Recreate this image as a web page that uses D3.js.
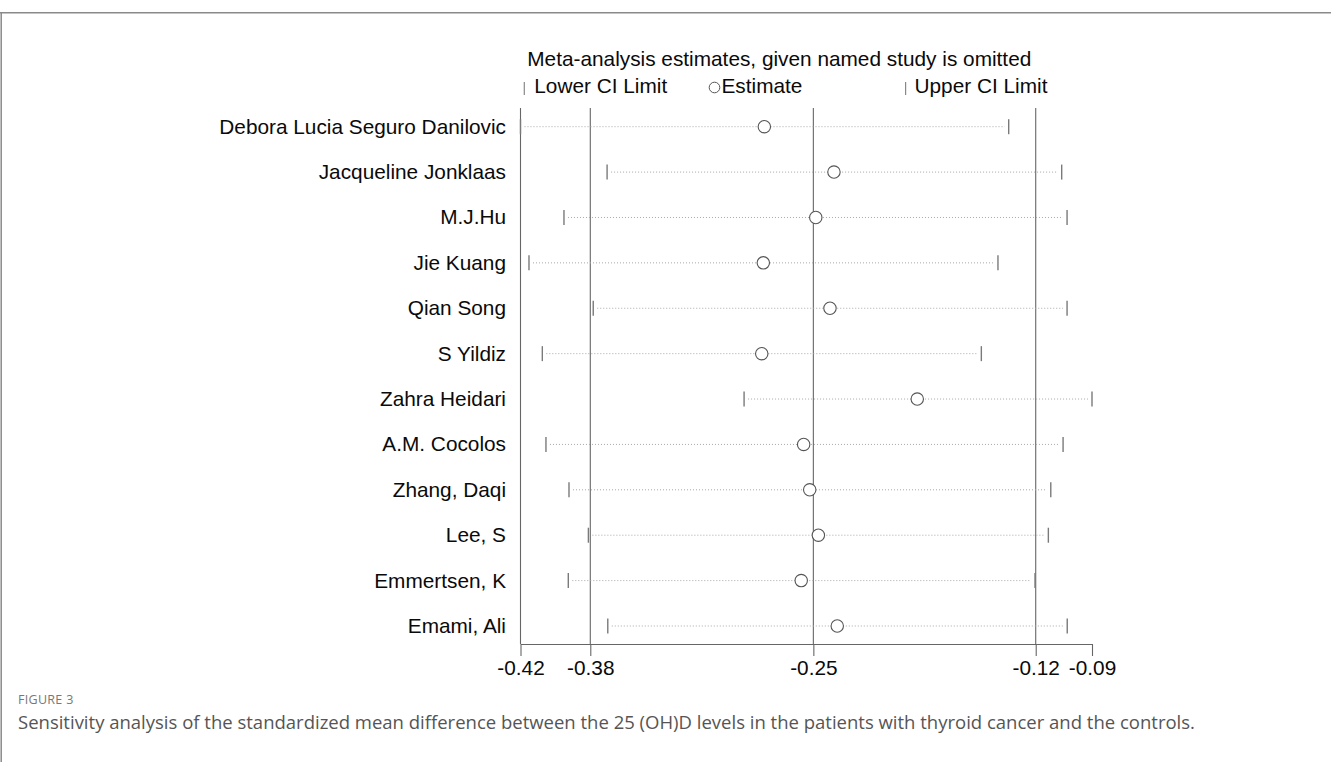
<!DOCTYPE html>
<html>
<head>
<meta charset="utf-8">
<script src="https://cdn.jsdelivr.net/npm/d3@7"></script>
<style>
  html, body { margin: 0; padding: 0; background: #fff; }
  svg { display: block; }
</style>
</head>
<body>
<svg id="chart" width="1331" height="762"></svg>
<script>
// Leave-one-out sensitivity analysis: pooled SMD with each study omitted
const studies = [
  "Debora Lucia Seguro Danilovic",
  "Jacqueline Jonklaas",
  "M.J.Hu",
  "Jie Kuang",
  "Qian Song",
  "S Yildiz",
  "Zahra Heidari",
  "A.M. Cocolos",
  "Zhang, Daqi",
  "Lee, S",
  "Emmertsen, K",
  "Emami, Ali"
];
const estimates = [-0.2792, -0.2390, -0.2495, -0.2798, -0.2413, -0.2807, -0.1909, -0.2565, -0.2530, -0.2480, -0.2579, -0.2371];
const lowerCI   = [-0.4200, -0.3700, -0.3949, -0.4151, -0.3780, -0.4074, -0.2909, -0.4053, -0.3920, -0.3808, -0.3924, -0.3696];
const upperCI   = [-0.1381, -0.1075, -0.1044, -0.1443, -0.1044, -0.1539, -0.0900, -0.1067, -0.1138, -0.1152, -0.1229, -0.1043];

// Axis: range ends plus the full-data lower limit, estimate and upper limit
const tickValues = [-0.4200, -0.3797, -0.2509, -0.1225, -0.0900];
const tickLabels = ["-0.42", "-0.38", "-0.25", "-0.12", "-0.09"];
const refLines   = [-0.4200, -0.3797, -0.2509, -0.1225];

const titleText = "Meta-analysis estimates, given named study is omitted";
const legendItems = ["Lower CI Limit", "Estimate", "Upper CI Limit"];
const figLabel = "FIGURE 3";
const captionText = "Sensitivity analysis of the standardized mean difference between the 25 (OH)D levels in the patients with thyroid cancer and the controls.";

const rows = studies.map((s, i) => ({ study: s, est: estimates[i], lo: lowerCI[i], hi: upperCI[i] }));

const svg = d3.select("#chart");
const FONT = "'Liberation Sans', Arial, Helvetica, sans-serif";
const FS = 20.8;

const x = d3.scaleLinear().domain([-0.42, -0.09]).range([520.5, 1092]);
const y = d3.scalePoint().domain(studies).range([126.7, 626]);
const plotTop = 108, axisY = 644;

// figure frame
svg.append("line").attr("x1", 0).attr("x2", 1331).attr("y1", 12.7).attr("y2", 12.7)
  .attr("stroke", "#8a8a8a").attr("stroke-width", 1.5);
svg.append("line").attr("x1", 1.2).attr("x2", 1.2).attr("y1", 12.7).attr("y2", 762)
  .attr("stroke", "#8a8a8a").attr("stroke-width", 1.5);

// title and legend
svg.append("text").attr("x", 527.3).attr("y", 65.7)
  .attr("font-family", FONT).attr("font-size", FS).attr("fill", "#0a0a0a").text(titleText);

const leg = svg.append("g").attr("font-family", FONT).attr("font-size", FS).attr("fill", "#0a0a0a");
leg.append("line").attr("x1", 524.3).attr("x2", 524.3).attr("y1", 82).attr("y2", 95)
  .attr("stroke", "#888").attr("stroke-width", 1.2);
leg.append("text").attr("x", 534.3).attr("y", 93.3).text(legendItems[0]);
leg.append("circle").attr("cx", 714.5).attr("cy", 87.5).attr("r", 5.3)
  .attr("fill", "none").attr("stroke", "#555").attr("stroke-width", 1);
leg.append("text").attr("x", 721.5).attr("y", 93.3).text(legendItems[1]);
leg.append("line").attr("x1", 905.6).attr("x2", 905.6).attr("y1", 82).attr("y2", 95)
  .attr("stroke", "#888").attr("stroke-width", 1.2);
leg.append("text").attr("x", 914.5).attr("y", 93.3).text(legendItems[2]);

// vertical reference lines (axis boundary, full-data lower CI, estimate, upper CI)
svg.append("g").selectAll("line").data(refLines).join("line")
  .attr("x1", d => x(d)).attr("x2", d => x(d))
  .attr("y1", plotTop).attr("y2", axisY)
  .attr("stroke", "#666").attr("stroke-width", 1.1);

// dotted CI spans
const g = svg.append("g");
g.selectAll("line.span").data(rows).join("line").attr("class", "span")
  .attr("x1", d => x(d.lo) + 4).attr("x2", d => x(d.hi) - 4)
  .attr("y1", d => y(d.study)).attr("y2", d => y(d.study))
  .attr("stroke", "#a8a8a8").attr("stroke-width", 1).attr("stroke-dasharray", "1,2");

// CI end ticks
g.selectAll("line.lo").data(rows).join("line").attr("class", "lo")
  .attr("x1", d => x(d.lo)).attr("x2", d => x(d.lo))
  .attr("y1", d => y(d.study) - 7.5).attr("y2", d => y(d.study) + 7.5)
  .attr("stroke", "#7a7a7a").attr("stroke-width", 1.4);
g.selectAll("line.hi").data(rows).join("line").attr("class", "hi")
  .attr("x1", d => x(d.hi)).attr("x2", d => x(d.hi))
  .attr("y1", d => y(d.study) - 7.5).attr("y2", d => y(d.study) + 7.5)
  .attr("stroke", "#7a7a7a").attr("stroke-width", 1.4);

// point estimates
g.selectAll("circle").data(rows).join("circle")
  .attr("cx", d => x(d.est)).attr("cy", d => y(d.study)).attr("r", 6.2)
  .attr("fill", "#fff").attr("stroke", "#555").attr("stroke-width", 1.1);

// study labels
svg.append("g").selectAll("text").data(rows).join("text")
  .attr("x", 506).attr("y", d => y(d.study) + 7)
  .attr("text-anchor", "end").attr("font-family", FONT).attr("font-size", FS).attr("fill", "#0a0a0a")
  .text(d => d.study);

// x axis
const axis = d3.axisBottom(x).tickValues(tickValues)
  .tickFormat((d, i) => tickLabels[i]).tickSize(12).tickSizeOuter(0);
const ax = svg.append("g").attr("transform", `translate(0,${axisY})`).call(axis);
ax.select(".domain").attr("stroke", "#666").attr("stroke-width", 1.1);
ax.selectAll(".tick line").attr("stroke", "#666").attr("stroke-width", 1.1);
ax.selectAll(".tick text").attr("font-family", FONT).attr("font-size", FS).attr("fill", "#0a0a0a").attr("dy", 0).attr("y", 31);

// caption
svg.append("text").attr("x", 18).attr("y", 704)
  .attr("font-family", "'Open Sans', 'Noto Sans', sans-serif").attr("font-size", 12.5)
  .attr("fill", "#777").attr("letter-spacing", 0.3).text(figLabel);
svg.append("text").attr("x", 18).attr("y", 729)
  .attr("font-family", "'Open Sans', 'Noto Sans', sans-serif").attr("font-size", 18.5)
  .attr("fill", "#555").text(captionText);
</script>
</body>
</html>
